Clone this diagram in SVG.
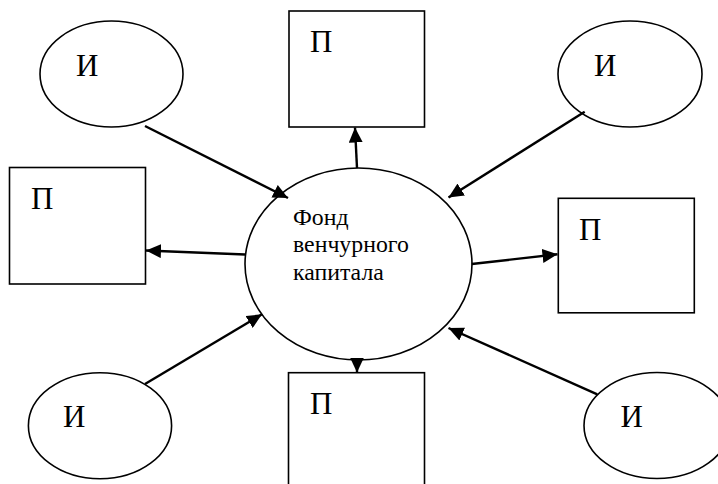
<svg xmlns="http://www.w3.org/2000/svg" width="718" height="484" viewBox="0 0 718 484">
<style>
.shape{fill:#fff;stroke:#000;stroke-width:1.6}
.lbl{font-family:"Liberation Serif","Times New Roman","DejaVu Serif",serif;font-size:31px;fill:#000}
.ctr{font-family:"Liberation Serif","Times New Roman","DejaVu Serif",serif;font-size:23.8px;fill:#000}
.conn{stroke:#000;stroke-width:2.4;fill:none;marker-end:url(#ah)}
</style>
<defs>
<marker id="ah" markerUnits="userSpaceOnUse" markerWidth="16" markerHeight="14" refX="15" refY="7" orient="auto">
<path d="M0,0 L15,7 L0,14 z" fill="#000"/>
</marker>
</defs>
<rect width="718" height="484" fill="#fff"/>
<g id="center">
<ellipse class="shape" cx="358.5" cy="264" rx="113.5" ry="96"/>
<text class="ctr" x="293" y="225">Фонд</text>
<text class="ctr" x="293" y="252">венчурного</text>
<text class="ctr" x="293" y="280">капитала</text>
</g>
<g id="inv-tl">
<ellipse class="shape" cx="111.5" cy="74" rx="71.5" ry="53"/>
<text class="lbl" x="76" y="76">И</text>
</g>
<g id="inv-tr">
<ellipse class="shape" cx="630" cy="74" rx="72" ry="53"/>
<text class="lbl" x="594" y="76">И</text>
</g>
<g id="inv-bl">
<ellipse class="shape" cx="100" cy="425.7" rx="71.6" ry="53"/>
<text class="lbl" x="63" y="427">И</text>
</g>
<g id="inv-br">
<ellipse class="shape" cx="657" cy="425.5" rx="73" ry="53"/>
<text class="lbl" x="620.5" y="427">И</text>
</g>
<g id="p-top">
<rect class="shape" x="289" y="11" width="135.5" height="116"/>
<text class="lbl" x="310" y="52">П</text>
</g>
<g id="p-left">
<rect class="shape" x="9.5" y="167.5" width="136" height="116.5"/>
<text class="lbl" x="31" y="209">П</text>
</g>
<g id="p-right">
<rect class="shape" x="558.3" y="198.3" width="136" height="114.5"/>
<text class="lbl" x="579" y="240">П</text>
</g>
<g id="p-bottom">
<rect class="shape" x="288.5" y="372.7" width="136" height="120"/>
<text class="lbl" x="310" y="414">П</text>
</g>
<g id="connectors">
<line class="conn" x1="145" y1="126" x2="288" y2="198"/>
<line class="conn" x1="357" y1="168" x2="355" y2="127.5"/>
<line class="conn" x1="584.7" y1="111.7" x2="448.5" y2="197.5"/>
<line class="conn" x1="245" y1="254.5" x2="146" y2="250.5"/>
<line class="conn" x1="471.7" y1="264" x2="557.5" y2="254.3"/>
<line class="conn" x1="145" y1="384" x2="262" y2="314.3"/>
<line class="conn" x1="357" y1="358" x2="357" y2="372.5"/>
<line class="conn" x1="597.3" y1="394.3" x2="448.5" y2="328"/>
</g>
</svg>
